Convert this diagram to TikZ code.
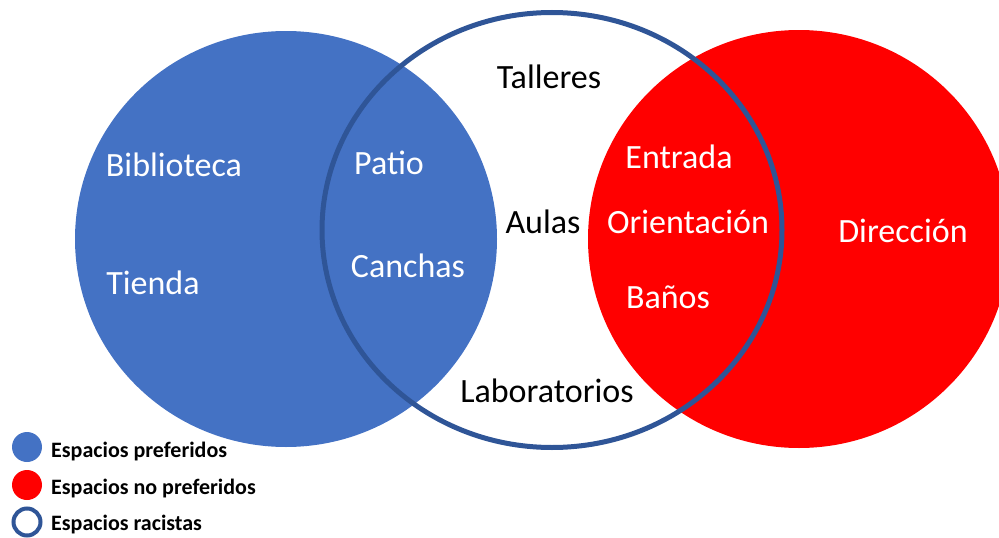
\documentclass[tikz,border=0pt]{standalone}
\usepackage{fontspec}
\setmainfont{Carlito}
\usetikzlibrary{shapes.geometric}
\definecolor{prefblue}{HTML}{4472C4}
\definecolor{noprefred}{HTML}{FF0000}
\definecolor{ringblue}{HTML}{2F5597}
\tikzset{
  vennset/.style={ellipse, inner sep=0pt, outer sep=0pt},
  vennlabel/.style={anchor=base, inner sep=0pt,
    font=\fontsize{34}{40}\selectfont},
  vennwhite/.style={vennlabel, text=white},
  keydot/.style={circle, inner sep=0pt, minimum size=30pt},
  keytext/.style={anchor=base west, inner sep=0pt,
    font=\fontsize{22}{26}\selectfont\bfseries}
}

\begin{document}
\begin{tikzpicture}[x=1pt, y=-1pt]
  \clip (0,0) rectangle (999,538);

  % the three sets
  \node[vennset, fill=prefblue, minimum width=422pt, minimum height=416pt]
    (pref) at (286,239) {};
  \node[vennset, fill=noprefred, minimum width=422pt, minimum height=418pt]
    (nopref) at (799,239) {};
  \node[vennset, draw=ringblue, line width=5pt, minimum width=460pt,
    minimum height=435pt] (racist) at (552,230) {};

  % places
  \node[vennwhite] (biblio) at (174,176) {Biblioteca};
  \node[vennwhite] (tienda) at (153,294) {Tienda};
  \node[vennwhite] (patio) at (389,174) {Patio};
  \node[vennwhite] (canchas) at (408,277) {Canchas};
  \node[vennlabel] (talleres) at (549,88) {Talleres};
  \node[vennlabel] (aulas) at (543,233) {Aulas};
  \node[vennlabel] (labs) at (547,402) {Laboratorios};
  \node[vennwhite] (entrada) at (679,168) {Entrada};
  \node[vennwhite] (orient) at (688,233) {Orientación};
  \node[vennwhite] (banos) at (668,308) {Baños};
  \node[vennwhite] (direccion) at (903,242) {Dirección};

  % legend
  \node[keydot, fill=prefblue] (keypref) at (27,447) {};
  \node[keydot, fill=noprefred] (keynopref) at (27,485) {};
  \node[keydot, draw=ringblue, line width=4pt, minimum size=27pt]
    (keyracist) at (27,522) {};
  \node[keytext] (txtpref) at (51,457) {Espacios preferidos};
  \node[keytext] (txtnopref) at (51,494) {Espacios no preferidos};
  \node[keytext] (txtracist) at (51,530) {Espacios racistas};
\end{tikzpicture}
\end{document}
